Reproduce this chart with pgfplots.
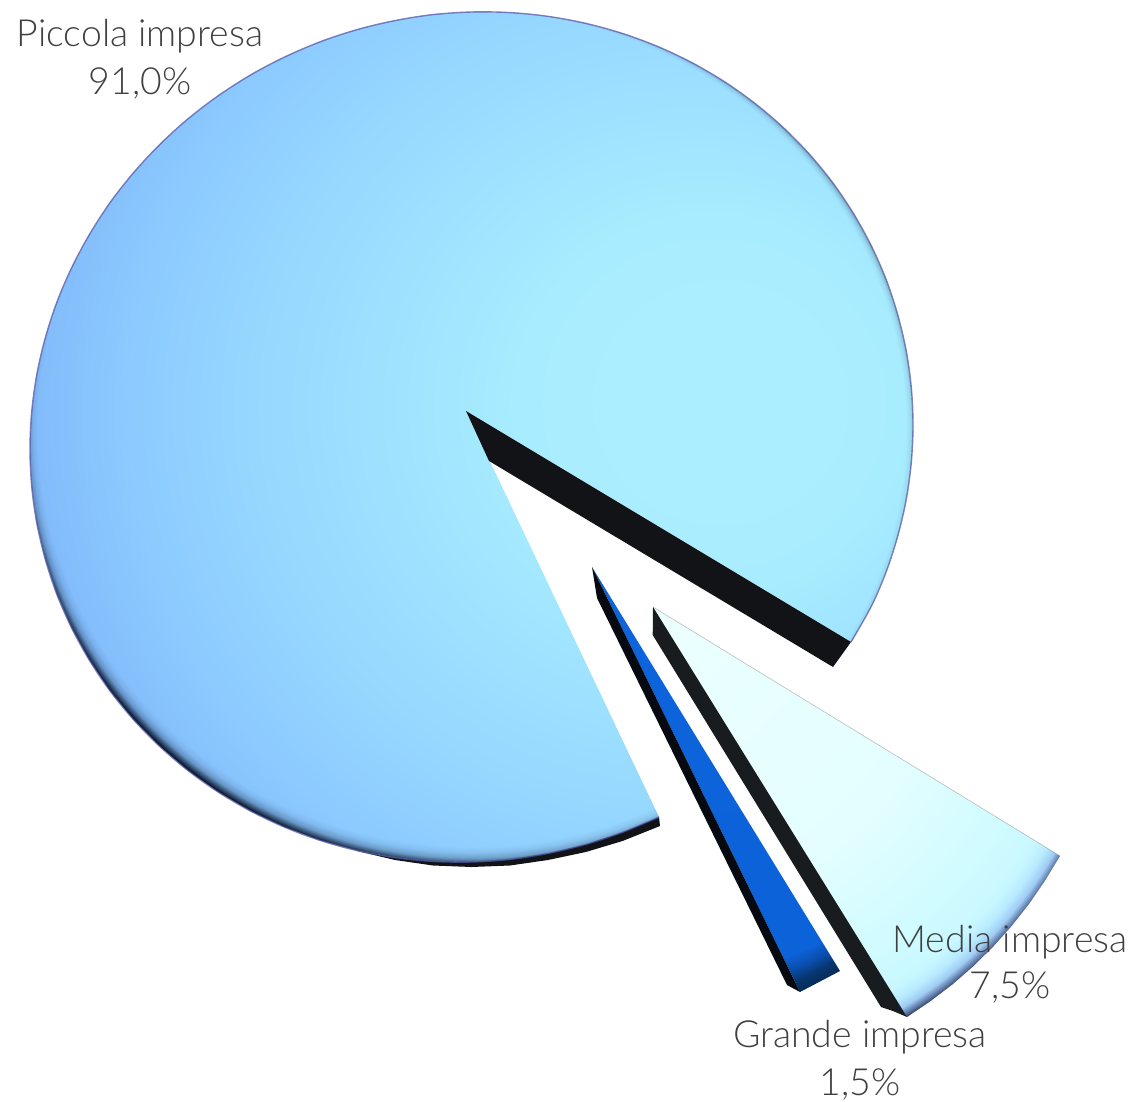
\documentclass[border=0pt]{standalone}
\usepackage{fontspec}
\setmainfont{Lato Light}
\usepackage{pgfplots}
\pgfplotsset{compat=1.18}
\usepackage{pgfplotstable}
\usetikzlibrary{fadings}
\definecolor{mA}{RGB}{170,238,255}
\definecolor{mB}{RGB}{168,236,255}
\definecolor{mC}{RGB}{160,228,255}
\definecolor{mD}{RGB}{150,215,255}
\definecolor{mE}{RGB}{140,202,255}
\definecolor{mF}{RGB}{125,180,248}
\definecolor{rimdark}{RGB}{10,20,40}
\definecolor{wallA}{RGB}{17,19,22}
\definecolor{wallB}{RGB}{24,28,30}
\definecolor{wallC}{RGB}{6,10,16}
\definecolor{labelc}{RGB}{64,64,64}
\definecolor{dA}{RGB}{236,255,255}
\definecolor{dB}{RGB}{228,254,255}
\definecolor{dC}{RGB}{208,251,255}
\definecolor{dD}{RGB}{200,248,255}
\definecolor{dE}{RGB}{185,235,255}
\definecolor{dF}{RGB}{160,205,245}
\definecolor{dG}{RGB}{90,115,160}
\definecolor{dH}{RGB}{40,50,75}
\definecolor{gA}{RGB}{14,103,226}
\definecolor{gB}{RGB}{12,98,216}
\definecolor{gC}{RGB}{10,79,176}
\definecolor{gD}{RGB}{7,54,111}
\definecolor{gE}{RGB}{5,42,85}
\pgfdeclareradialshading{mainsh}{\pgfpoint{15.2bp}{2.175bp}}{color(0bp)=(mA); color(6bp)=(mA); color(11bp)=(mB); color(16bp)=(mC); color(24bp)=(mD); color(30bp)=(mE); color(37bp)=(mF); color(100bp)=(mF)}
\pgfdeclareradialshading{medsh}{\pgfpoint{-42.9bp}{43.2bp}}{color(0bp)=(dA); color(16bp)=(dA); color(39bp)=(dB); color(48.5bp)=(dC); color(51.5bp)=(dD); color(52.5bp)=(dE); color(53.25bp)=(dF); color(53.8bp)=(dG); color(54.15bp)=(dH); color(108bp)=(dH)}
\pgfdeclareradialshading{gransh}{\pgfpoint{2bp}{81bp}}{color(0bp)=(gA); color(62.5bp)=(gB); color(64.5bp)=(gB); color(65.5bp)=(gC); color(66.5bp)=(gD); color(67.5bp)=(gE); color(135bp)=(gE)}
\pgfdeclareradialshading{rimsh}{\pgfpoint{0bp}{8.65bp}}{color(0bp)=(black); color(24.5bp)=(black); color(24.75bp)=(white!7!black); color(25bp)=(white!25!black); color(25.35bp)=(white); color(26bp)=(white)}
\pgfdeclarefading{rimfade}{\pgfuseshading{rimsh}}
\tikzset{lab/.style={anchor=base, text=labelc, font=\fontsize{18.7}{22}\selectfont}}
\pgfplotstableread{
x y
851.0 642.0
871.6 605.7
886.4 571.1
897.9 535.4
906.3 499.0
911.3 462.1
913.0 425.0
911.3 387.9
906.3 351.4
897.9 315.4
886.4 280.3
871.6 246.5
853.8 214.1
833.2 183.4
809.7 154.6
783.7 128.0
755.3 103.7
724.7 81.9
692.3 62.9
658.1 46.7
622.5 33.5
585.8 23.4
548.1 16.4
510.0 12.6
471.5 12.0
433.0 14.6
394.9 20.6
357.2 29.6
320.5 41.7
284.9 56.9
250.7 74.9
218.3 95.7
187.7 119.1
159.3 145.0
133.3 173.0
109.8 203.0
89.2 234.9
71.4 268.3
56.6 302.9
45.1 338.6
36.7 375.0
31.7 411.9
30.0 449.0
31.7 486.1
36.7 522.6
45.1 558.6
56.6 593.7
71.4 627.5
89.2 659.9
109.8 690.6
133.3 719.4
159.3 746.0
187.7 770.3
218.3 792.1
250.7 811.1
284.9 827.3
320.5 840.5
357.2 850.6
394.9 857.6
433.0 861.4
471.5 862.0
510.0 859.4
548.1 853.4
585.8 844.4
622.5 832.3
659.0 817.0
466.0 411.0
}\mainface
\pgfplotstableread{
x y
659 817
660 826
622.5 841
585.8 852
548 860
510 865.5
471.5 867
433 865.5
395 860
357 851
395 857
471.5 862
548 853
622.5 832
}\mainunder
\pgfplotstableread{
x y
466 411
489 461
833 667
851 642
}\mainwall
\pgfplotstableread{
x y
653 607
1060 856
1045.2 880.4
1029.2 903.7
1011.9 925.7
993.4 946.4
973.7 965.9
952.7 984.2
930.4 1001.2
907 1017
}\mediaface
\pgfplotstableread{
x y
653 607
652.7 635
881 1007
893 1011
907 1017
}\mediawall
\pgfplotstableread{
x y
653 607
1060 856
}\mediaedge
\pgfplotstableread{
x y
592 567
840 971
800 992
}\grandeface
\pgfplotstableread{
x y
592 567
597 598
787 985
800 992
}\grandewall
\begin{document}
\begin{tikzpicture}
\useasboundingbox (0,0) rectangle (566.5pt,550.5pt);
\begin{axis}[
  at={(0,0)}, anchor=south west,
  scale only axis, width=566.5pt, height=550.5pt,
  xmin=0, xmax=1133, ymin=0, ymax=1101, y dir=reverse,
  hide axis, clip=false,
  every axis plot/.append style={no markers, line join=round}
]
\addplot[fill=wallA, draw=none] table {\mainunder};
\addplot[shading=mainsh, draw=none] table {\mainface};
\addplot[fill=rimdark, draw=none, path fading=rimfade] table {\mainface};
\addplot[draw=rimdark!60!blue!70!white, opacity=.75, line width=.7pt, smooth, tension=.55, restrict expr to domain={\coordindex}{0:65}] table {\mainface};
\addplot[fill=wallA, draw=none] table {\mainwall};
\addplot[shading=medsh, draw=none] table {\mediaface};
\addplot[draw=gray, opacity=.5, line width=.3pt] table {\mediaedge};
\addplot[fill=wallB, draw=none] table {\mediawall};
\addplot[shading=gransh, draw=none] table {\grandeface};
\addplot[fill=wallC, draw=none] table {\grandewall};
\node[lab] at (axis cs:140,47) {Piccola impresa};
\node[lab] at (axis cs:140,95) {91,0\%};
\node[lab] at (axis cs:1010,952) {Media impresa};
\node[lab] at (axis cs:1010,998) {7,5\%};
\node[lab] at (axis cs:860,1047) {Grande impresa};
\node[lab] at (axis cs:860,1095) {1,5\%};
\end{axis}
\end{tikzpicture}
\end{document}
